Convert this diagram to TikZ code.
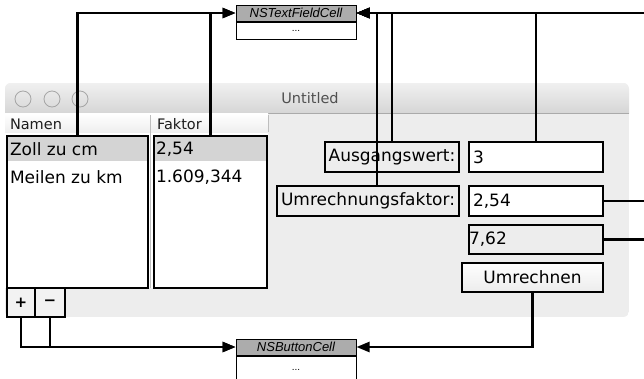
\documentclass[tikz,border=0pt]{standalone}
\usepackage{fontspec}
\setmainfont{DejaVu Sans}
\newfontfamily\cellfont{Liberation Sans}
\usetikzlibrary{arrows.meta}
\begin{document}
\begin{tikzpicture}[x=1pt,y=-1pt,
  uibox/.style={draw=black,line width=2.4pt,inner sep=0pt,outer sep=0pt},
  uitext/.style={inner sep=0pt,outer sep=0pt,text=black,font=\fontsize{17}{20}\selectfont},
  headtext/.style={inner sep=0pt,outer sep=0pt,text={rgb,255:red,30;green,30;blue,30},font=\fontsize{14.5}{17}\selectfont},
  cellhead/.style={draw=black,line width=1pt,fill={rgb,255:red,172;green,172;blue,172},minimum width=120pt,minimum height=16pt,inner sep=0pt,font=\cellfont\itshape\fontsize{13}{15}\selectfont},
  cellbody/.style={draw=black,line width=1pt,fill=white,minimum width=120pt,minimum height=17pt,inner sep=0pt,font=\cellfont\fontsize{10}{12}\selectfont},
  link/.style={draw=black,line width=2.4pt,-{Triangle[length=13pt,width=10pt]}}]
\useasboundingbox (0,0) rectangle (644,378);
\fill[white] (0,0) rectangle (644,378);
\begin{scope}
\clip[rounded corners=6pt] (5,83) rectangle (629,317);
\fill[fill={rgb,255:red,237;green,237;blue,237}] (5,83) rectangle (629,317);
\shade[top color={rgb,255:red,240;green,240;blue,240},bottom color={rgb,255:red,214;green,214;blue,214}] (5,83) rectangle (629,113);
\draw[draw={rgb,255:red,170;green,170;blue,170},line width=1pt] (5,113) -- (629,113);
\shade[top color=white,bottom color={rgb,255:red,238;green,238;blue,238}] (5,113.5) rectangle (268,133);
\fill[white] (5,133) rectangle (268,288);
\end{scope}
\draw[draw={rgb,255:red,190;green,190;blue,190},line width=1pt] (150.5,115) -- (150.5,288);
\draw[draw={rgb,255:red,190;green,190;blue,190},line width=1pt] (268,115) -- (268,132);
\fill[fill={rgb,255:red,212;green,212;blue,212}] (7,136) rectangle (148,161);
\fill[fill={rgb,255:red,212;green,212;blue,212}] (154,136) rectangle (267,161);
\foreach \cx in {23,52,80}
  \draw[draw={rgb,255:red,165;green,165;blue,165},line width=0.8pt] (\cx,99) circle[radius=8];
\node[headtext,text={rgb,255:red,80;green,80;blue,80}] (title) at (310,98) {Untitled};
\node[headtext,anchor=west] (namenhead) at (10,124) {Namen};
\node[headtext,anchor=west] (faktorhead) at (157,124) {Faktor};
\node[uibox,minimum width=141pt,minimum height=152pt] (namtab) at (77.5,212) {};
\node[uibox,minimum width=113pt,minimum height=152pt] (faktab) at (210.5,212) {};
\node[uitext,anchor=west] (row1a) at (10,149) {Zoll zu cm};
\node[uitext,anchor=west] (row2a) at (10,177) {Meilen zu km};
\node[uitext,anchor=west] (row1b) at (156,149) {2,54};
\node[uitext,anchor=west] (row2b) at (156,177) {1.609,344};
\node[uibox,fill={rgb,255:red,242;green,242;blue,242},minimum width=28pt,minimum height=29pt,font=\bfseries\fontsize{15}{17}\selectfont] (plusbtn) at (21,302.5) {+};
\node[uibox,fill={rgb,255:red,242;green,242;blue,242},minimum width=30pt,minimum height=29pt,font=\bfseries\fontsize{15}{17}\selectfont] (minusbtn) at (50,302.5) {−};
\node[uibox,minimum width=134pt,minimum height=30pt,font=\fontsize{17}{20}\selectfont] (auslbl) at (392,157) {Ausgangswert:};
\node[uibox,minimum width=182pt,minimum height=30pt,font=\fontsize{17}{20}\selectfont] (faklbl) at (368,201) {Umrechnungsfaktor:};
\node[uibox,fill=white,minimum width=134pt,minimum height=30pt] (inval) at (536,157) {};
\node[uibox,fill=white,minimum width=134pt,minimum height=30pt] (fakval) at (536,201) {};
\node[uibox,minimum width=134pt,minimum height=29pt] (resval) at (536,239.5) {};
\node[uitext,anchor=west] (intext) at ([xshift=4pt]inval.west) {3};
\node[uitext,anchor=west] (faktext) at ([xshift=4pt]fakval.west) {2,54};
\node[uitext,anchor=west] (restext) at ([xshift=0pt]resval.west) {7,62};
\node[uibox,top color=white,bottom color={rgb,255:red,236;green,236;blue,236},minimum width=141pt,minimum height=29pt,font=\fontsize{17}{20}\selectfont] (calcbtn) at (532.5,277.5) {Umrechnen};
\node[cellhead] (tfc) at (296,13) {NSTextFieldCell};
\node[cellbody,anchor=north] (tfcbody) at (tfc.south) {...};
\node[cellhead] (bc) at (296,347) {NSButtonCell};
\node[cellbody,anchor=north,minimum height=28pt] (bcbody) at (bc.south) {...};
\draw[link] (namtab.north) |- (tfc.west);
\draw[link] (faktab.north) |- (tfc.west);
\draw[link] (auslbl.north) |- (tfc.east);
\draw[link] ([xshift=9pt]faklbl.north) |- (tfc.east);
\draw[link] (inval.north) |- (tfc.east);
\draw[link] (fakval.east) -- ++(50,0) |- (tfc.east);
\draw[link] (resval.east) -- ++(50,0) |- (tfc.east);
\draw[link] (calcbtn.south) |- (bc.east);
\draw[link] (plusbtn.south) |- (bc.west);
\draw[link] (minusbtn.south) |- (bc.west);
\end{tikzpicture}
\end{document}
